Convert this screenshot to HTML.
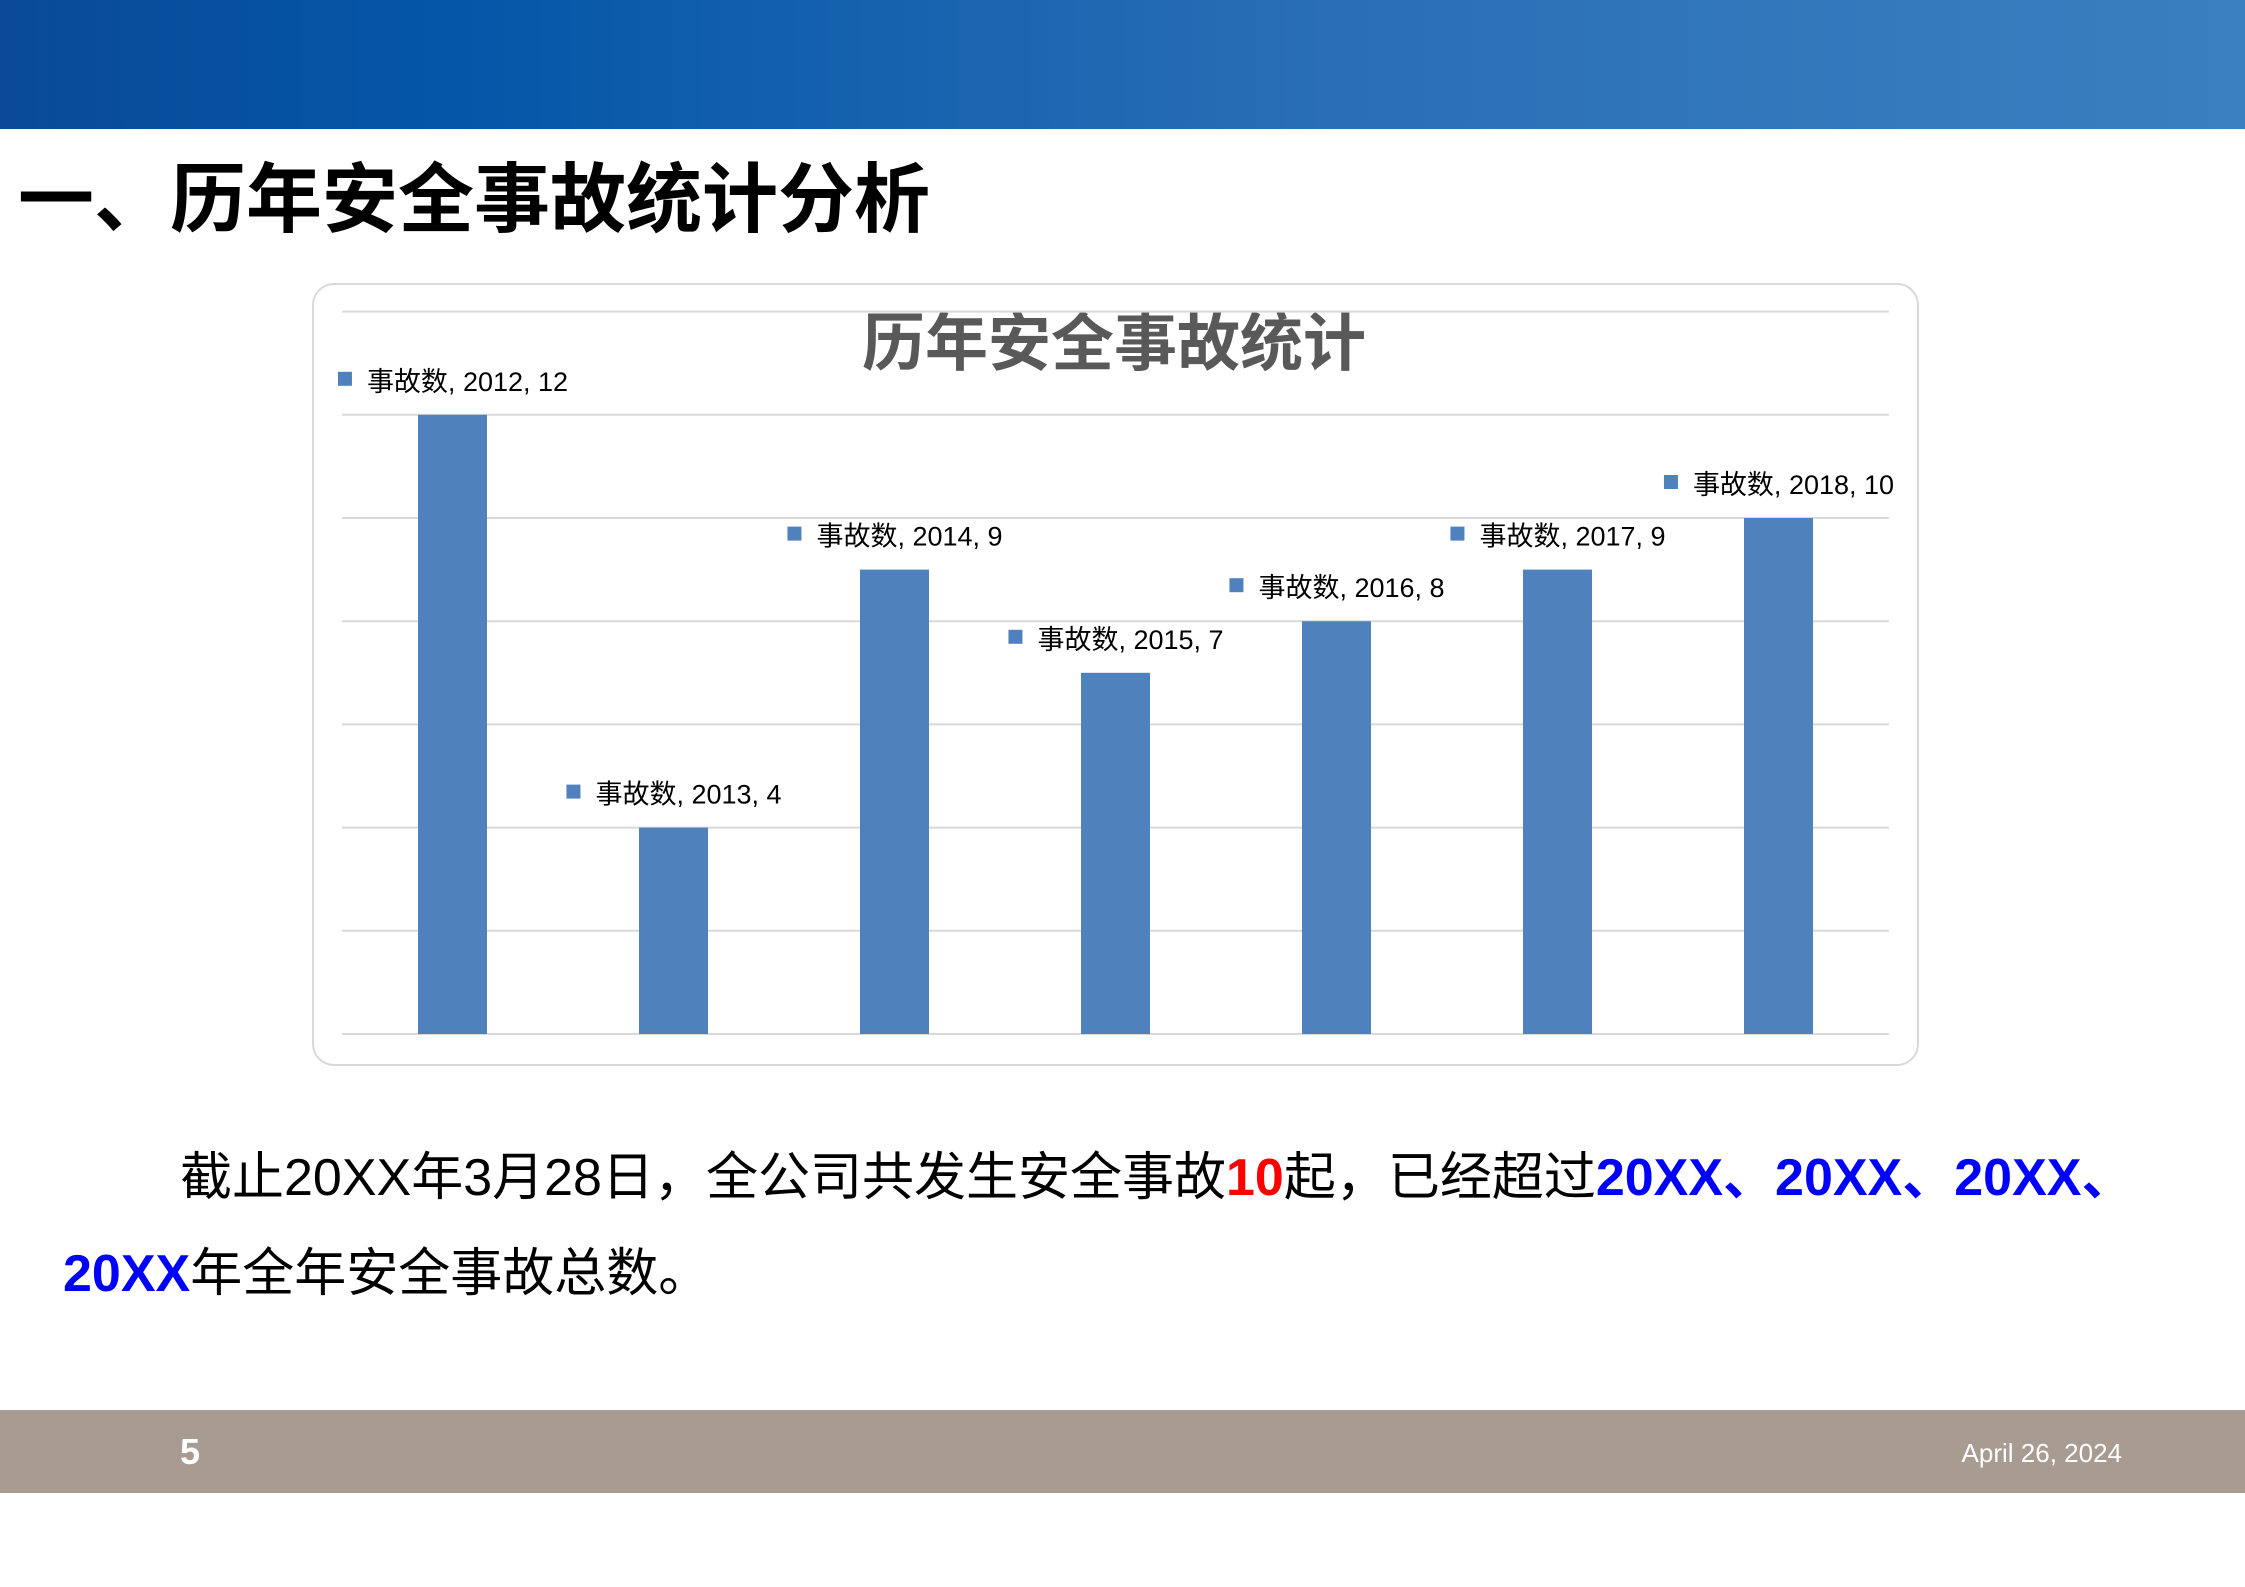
<!DOCTYPE html>
<html><head><meta charset="utf-8"><style>
html,body{margin:0;padding:0;}
body{width:2245px;height:1587px;position:relative;background:#fff;overflow:hidden;font-family:"Liberation Sans","Noto Sans CJK SC",sans-serif;}
.abs{position:absolute;white-space:nowrap;}
</style></head><body>
<div class="abs" style="left:0;top:0;width:2245px;height:129px;background:linear-gradient(90deg,#0a4a98 0%,#0456a8 20%,#2a6fb6 60%,#3a80c0 100%);"></div>
<div class="abs" style="left:18px;top:156px;font-size:76px;font-weight:bold;color:#000;line-height:90px;">一、历年安全事故统计分析</div>
<div class="abs" style="left:312px;top:283px;width:1603px;height:779px;border:2px solid #d9d9d9;border-radius:22px;"></div>
<svg class="abs" style="left:0;top:0" width="2245" height="1587">
<text x="1114" y="365" text-anchor="middle" font-size="63" font-weight="bold" fill="#595959" font-family="Liberation Sans,Noto Sans CJK SC,sans-serif">历年安全事故统计</text>
<g id="grid"></g><g id="bars"></g><g id="labels"></g>
</svg>
<script>
const categories=["2012","2013","2014","2015","2016","2017","2018"];
const values=[12,4,9,7,8,9,10];
const seriesName="事故数";
const gridTicks=[0,2,4,6,8,10,12,14];
const X0=342,X1=1889,Y0=1034,UNIT=51.6;
const NS="http://www.w3.org/2000/svg";
const bw=(X1-X0)/categories.length;
function xC(i){return X0+bw*(i+0.5);}
function yV(v){return Y0-v*UNIT;}
const g=document.getElementById('grid'),b=document.getElementById('bars'),l=document.getElementById('labels');
gridTicks.forEach(t=>{const ln=document.createElementNS(NS,'line');


ln.setAttribute('x1',X0);ln.setAttribute('x2',X1);ln.setAttribute('y1',yV(t));ln.setAttribute('y2',yV(t));
ln.setAttribute('stroke','#d9d9d9');ln.setAttribute('stroke-width','2');g.appendChild(ln);});
values.forEach((v,i)=>{const r=document.createElementNS(NS,'rect');


r.setAttribute('x',xC(i)-34.5);r.setAttribute('width',69);r.setAttribute('y',yV(v));r.setAttribute('height',v*UNIT);
r.setAttribute('fill','#4f81bd');b.appendChild(r);
const gl=document.createElementNS(NS,'g');


const t=document.createElementNS(NS,'text');
t.setAttribute('x',xC(i)+15);t.setAttribute('y',yV(v)-24);t.setAttribute('text-anchor','middle');
t.setAttribute('font-size','27');t.setAttribute('fill','#000');
t.setAttribute('font-family','Liberation Sans,Noto Sans CJK SC,sans-serif');
t.textContent=seriesName+", "+categories[i]+", "+v;gl.appendChild(t);l.appendChild(gl);
const w=t.getComputedTextLength?t.getComputedTextLength():200;
const sq=document.createElementNS(NS,'rect');
sq.setAttribute('x',xC(i)+15-w/2-29);sq.setAttribute('y',yV(v)-43);sq.setAttribute('width',14);sq.setAttribute('height',14);
sq.setAttribute('fill','#4f81bd');gl.appendChild(sq);});
</script>
<div class="abs" style="left:180px;top:1145px;font-size:52px;line-height:66px;color:#000;">截止20XX年3月28日，全公司共发生安全事故<span style="color:#ff0000;font-weight:bold;">10</span>起，已经超过<span style="color:#0000ff;font-weight:bold;">20XX、20XX、20XX、</span></div>
<div class="abs" style="left:63px;top:1241px;font-size:52px;line-height:66px;color:#000;"><span style="color:#0000ff;font-weight:bold;">20XX</span>年全年安全事故总数。</div>
<div class="abs" style="left:0;top:1410px;width:2245px;height:83px;background:#a89b91;"></div>
<div class="abs" style="left:180px;top:1431px;font-size:36px;font-weight:bold;color:#fff;line-height:42px;">5</div>
<div class="abs" style="right:123px;top:1437px;font-size:26px;color:#fff;line-height:32px;">April 26, 2024</div>
</body></html>
